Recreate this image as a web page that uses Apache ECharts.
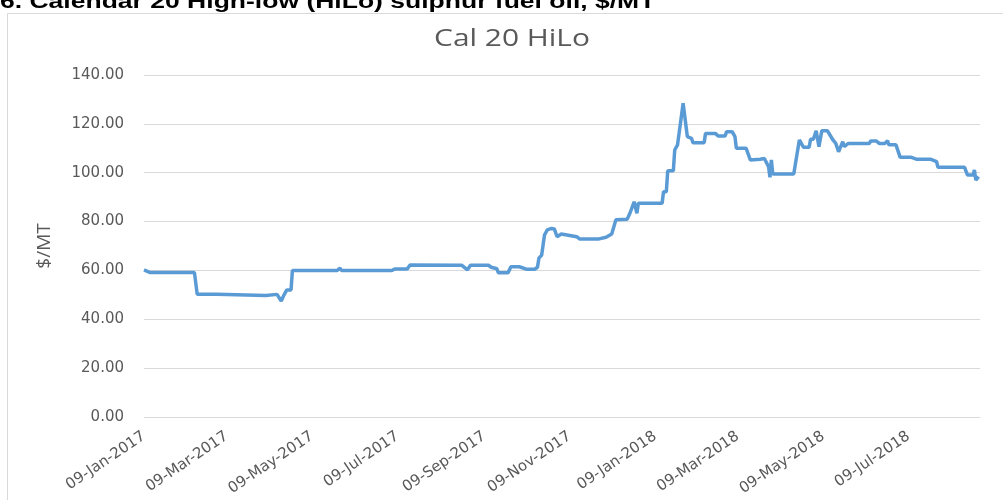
<!DOCTYPE html>
<html>
<head>
<meta charset="utf-8">
<script src="https://cdn.jsdelivr.net/npm/echarts@6/dist/echarts.min.js"></script>
<style>
  html, body { margin: 0; padding: 0; background: #fff; }
  #chart { width: 1003px; height: 500px; }
</style>
</head>
<body>
<div id="chart"></div>
<script>
// breakpoints of the Cal 20 HiLo curve
const dates = [
  '2017-01-09', '2017-01-13', '2017-02-14', '2017-02-16', '2017-03-02', '2017-03-03',
  '2017-04-06', '2017-04-07', '2017-04-14', '2017-04-17', '2017-04-19', '2017-04-21',
  '2017-04-24', '2017-04-25', '2017-05-27', '2017-05-29', '2017-05-30', '2017-07-05',
  '2017-07-07', '2017-07-16', '2017-07-18', '2017-08-24', '2017-08-28', '2017-08-30',
  '2017-09-12', '2017-09-14', '2017-09-18', '2017-09-19', '2017-09-26', '2017-09-28',
  '2017-10-04', '2017-10-09', '2017-10-15', '2017-10-17', '2017-10-18', '2017-10-20',
  '2017-10-22', '2017-10-24', '2017-10-27', '2017-10-29', '2017-10-31', '2017-11-03',
  '2017-11-07', '2017-11-14', '2017-11-16', '2017-11-30', '2017-12-05', '2017-12-09',
  '2017-12-12', '2017-12-20', '2017-12-22', '2017-12-25', '2017-12-27', '2017-12-28',
  '2018-01-14', '2018-01-15', '2018-01-17', '2018-01-18', '2018-01-22', '2018-01-23',
  '2018-01-25', '2018-01-29', '2018-01-30', '2018-02-01', '2018-02-04', '2018-02-05',
  '2018-02-13', '2018-02-14', '2018-02-21', '2018-02-23', '2018-02-28', '2018-03-01',
  '2018-03-05', '2018-03-07', '2018-03-08', '2018-03-15', '2018-03-18', '2018-03-25',
  '2018-03-28', '2018-03-31', '2018-04-01', '2018-04-02', '2018-04-03', '2018-04-18',
  '2018-04-22', '2018-04-23', '2018-04-25', '2018-04-29', '2018-04-30', '2018-05-02',
  '2018-05-04', '2018-05-06', '2018-05-08', '2018-05-12', '2018-05-16', '2018-05-18',
  '2018-05-20', '2018-05-23', '2018-05-24', '2018-05-27', '2018-06-11', '2018-06-12',
  '2018-06-16', '2018-06-18', '2018-06-22', '2018-06-24', '2018-06-25', '2018-06-30',
  '2018-07-03', '2018-07-11', '2018-07-15', '2018-07-25', '2018-07-29', '2018-07-30',
  '2018-08-18', '2018-08-20', '2018-08-24', '2018-08-25', '2018-08-26', '2018-08-28'
];
const prices = [
  60.2, 59.2, 59.2, 50.2, 50.2, 49.7,
  49.7, 50.2, 50.2, 47.5, 50.0, 52.0,
  52.0, 60.0, 60.0, 60.9, 60.0, 60.0,
  60.6, 60.6, 62.2, 62.1, 60.2, 62.1,
  62.1, 61.3, 60.7, 59.1, 59.1, 61.5,
  61.5, 60.5, 60.5, 61.3, 65.0, 66.3,
  74.5, 76.6, 77.2, 77.0, 73.8, 74.9,
  74.5, 73.8, 72.9, 72.9, 73.6, 74.9,
  80.7, 80.9, 83.4, 88.1, 83.4, 87.5,
  87.5, 92.2, 92.2, 100.8, 100.8, 109.3,
  111.4, 128.4, 128.4, 114.8, 114.1, 112.3,
  112.3, 116.1, 116.1, 115.0, 115.0, 116.8,
  116.8, 114.8, 110.0, 110.0, 105.2, 105.5,
  105.8, 102.5, 98.1, 105.2, 99.5, 99.5,
  113.4, 113.4, 110.4, 110.4, 113.7, 113.7,
  117.2, 110.7, 117.2, 117.2, 113.4, 112.0,
  108.6, 112.7, 110.7, 112.0, 112.0, 113.0,
  113.0, 112.0, 112.0, 113.1, 111.4, 111.4,
  106.3, 106.3, 105.5, 105.5, 104.5, 102.2,
  102.2, 99.1, 99.1, 101.1, 97.0, 98.4
];
const labelDates = [
  '2017-01-09', '2017-03-09', '2017-05-09', '2017-07-09', '2017-09-09',
  '2017-11-09', '2018-01-09', '2018-03-09', '2018-05-09', '2018-07-09'
];
const monthNames = ['Jan', 'Feb', 'Mar', 'Apr', 'May', 'Jun', 'Jul', 'Aug', 'Sep', 'Oct', 'Nov', 'Dec'];
const xStart = '2017-01-09';
const xEnd = '2018-08-29';

const toTime = (s) => echarts.time.parse(s).getTime();

const chart = echarts.init(document.getElementById('chart'));

const seriesData = dates.map((d, i) => [toTime(d), prices[i]]);
const tickValues = labelDates.map(toTime);

function fmtDate(v) {
  const d = new Date(v);
  const day = String(d.getDate()).padStart(2, '0');
  return day + '-' + monthNames[d.getMonth()] + '-' + d.getFullYear();
}

chart.setOption({
  animation: false,
  graphic: [
    {
      type: 'rect',
      z: 0,
      shape: { x: 7.5, y: 13.5, width: 1100, height: 600 },
      style: { fill: 'none', stroke: '#d9d9d9', lineWidth: 1 }
    },
    {
      type: 'text',
      z: 10,
      x: 0,
      y: 2,
      scaleX: 1.3,
      style: {
        text: '6. Calendar 20 High-low (HiLo) sulphur fuel oil, $/MT',
        font: 'bold 20.4px "Liberation Sans", Arial, sans-serif',
        fill: '#000',
        align: 'left',
        verticalAlign: 'middle'
      }
    },
    {
      type: 'text',
      z: 10,
      x: 512,
      y: 39.5,
      scaleX: 1.3,
      style: {
        text: 'Cal 20 HiLo',
        font: '23px "Open Sans", sans-serif',
        fill: '#595959',
        align: 'center',
        verticalAlign: 'middle'
      }
    }
  ],
  grid: { left: 144, right: 23, top: 75, bottom: 83 },
  xAxis: {
    type: 'value',
    min: toTime(xStart),
    max: toTime(xEnd),
    axisLine: { show: false },
    axisTick: { show: false },
    splitLine: { show: false },
    axisLabel: {
      customValues: tickValues,
      formatter: fmtDate,
      rotate: 34,
      margin: 18,
      color: '#595959',
      fontFamily: '"DejaVu Sans", sans-serif',
      fontSize: 15,
      hideOverlap: false
    }
  },
  yAxis: {
    type: 'value',
    min: 0,
    max: 140,
    interval: 20,
    name: '$/MT',
    nameLocation: 'middle',
    nameGap: 90,
    nameTextStyle: { color: '#595959', fontFamily: '"Open Sans", sans-serif', fontSize: 19 },
    axisLine: { show: false },
    axisTick: { show: false },
    splitLine: { lineStyle: { color: '#d9d9d9', width: 1 } },
    axisLabel: {
      formatter: (v) => v.toFixed(2),
      margin: 20,
      color: '#595959',
      fontFamily: '"DejaVu Sans", sans-serif',
      fontSize: 15
    }
  },
  series: [
    {
      type: 'line',
      data: seriesData,
      showSymbol: false,
      symbol: 'none',
      lineStyle: { color: '#5b9bd5', width: 3.5 },
      itemStyle: { color: '#5b9bd5' }
    }
  ]
});
</script>
</body>
</html>
